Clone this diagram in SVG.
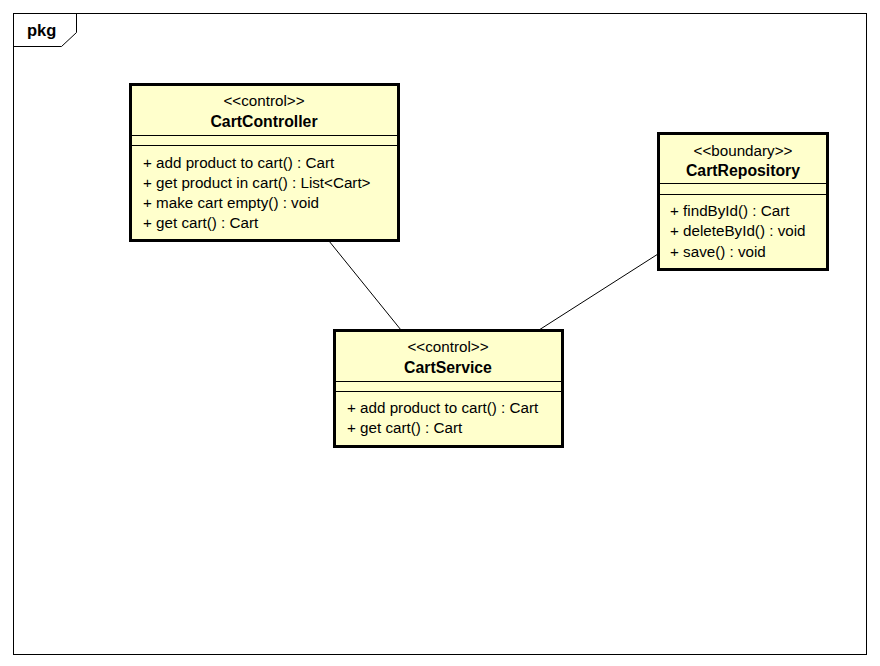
<svg xmlns="http://www.w3.org/2000/svg" width="880" height="666" viewBox="0 0 880 666">
  <style>
    .frame { fill: none; stroke: #000; stroke-width: 1; }
    .cls { fill: #ffffcc; stroke: #000; stroke-width: 3; }
    .sep { stroke: #000; stroke-width: 1; }
    .t { font-family: "Liberation Sans", Arial, sans-serif; font-size: 15.2px; fill: #000; }
    .c { text-anchor: middle; }
    .b { font-weight: bold; font-size: 15.8px; }
    .edge { stroke: #000; stroke-width: 1; fill: none; }
  </style>
  <rect x="0" y="0" width="880" height="666" fill="#fff"/>

  <!-- package frame -->
  <g id="pkg">
    <rect class="frame" x="13.5" y="13.5" width="853" height="641"/>
    <path class="frame" d="M76.5 13.5 V32.5 L61.5 46.5 H13.5"/>
    <text class="t b" x="27" y="36" style="font-size:16.5px">pkg</text>
  </g>

  <!-- associations -->
  <g id="connectors">
    <line class="edge" x1="329" y1="241" x2="401" y2="330"/>
    <line class="edge" x1="658" y1="254" x2="539" y2="330"/>
  </g>

  <g id="CartController">
    <rect class="cls" x="130.5" y="84.5" width="268" height="156"/>
    <line class="sep" x1="130" y1="135.5" x2="398" y2="135.5"/>
    <line class="sep" x1="130" y1="145.5" x2="398" y2="145.5"/>
    <text class="t c" x="264" y="106">&lt;&lt;control&gt;&gt;</text>
    <text class="t c b" x="264" y="127">CartController</text>
    <text class="t" x="143" y="168">+ add product to cart() : Cart</text>
    <text class="t" x="143" y="188">+ get product in cart() : List&lt;Cart&gt;</text>
    <text class="t" x="143" y="208">+ make cart empty() : void</text>
    <text class="t" x="143" y="228">+ get cart() : Cart</text>
  </g>

  <g id="CartRepository">
    <rect class="cls" x="658.5" y="133.5" width="169" height="136"/>
    <line class="sep" x1="658" y1="183.5" x2="827" y2="183.5"/>
    <line class="sep" x1="658" y1="194.5" x2="827" y2="194.5"/>
    <text class="t c" x="743" y="156">&lt;&lt;boundary&gt;&gt;</text>
    <text class="t c b" x="743" y="176">CartRepository</text>
    <text class="t" x="670" y="216">+ findById() : Cart</text>
    <text class="t" x="670" y="236">+ deleteById() : void</text>
    <text class="t" x="670" y="257">+ save() : void</text>
  </g>

  <g id="CartService">
    <rect class="cls" x="334.5" y="330.5" width="228" height="116"/>
    <line class="sep" x1="334" y1="381.5" x2="562" y2="381.5"/>
    <line class="sep" x1="334" y1="391.5" x2="562" y2="391.5"/>
    <text class="t c" x="448" y="352">&lt;&lt;control&gt;&gt;</text>
    <text class="t c b" x="448" y="373">CartService</text>
    <text class="t" x="347" y="413">+ add product to cart() : Cart</text>
    <text class="t" x="347" y="433">+ get cart() : Cart</text>
  </g>
</svg>
